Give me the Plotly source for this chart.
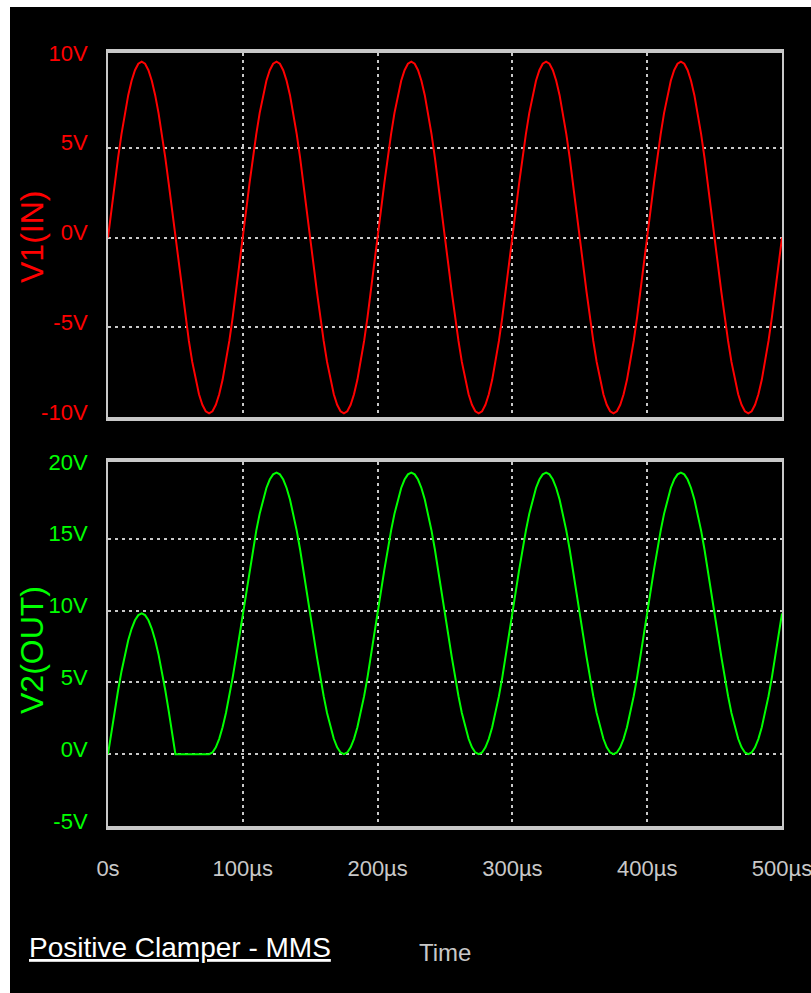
import plotly.graph_objects as go

# time step of the simulation samples (µs)
t_start = 0
t_step = 2.5

v1_in = [
    0, 1.53, 3.03, 4.45, 5.76, 6.93, 7.93, 8.73, 9.32, 9.68,
    9.8, 9.68, 9.32, 8.73, 7.93, 6.93, 5.76, 4.45, 3.03, 1.53,
    0, -1.53, -3.03, -4.45, -5.76, -6.93, -7.93, -8.73, -9.32, -9.68,
    -9.8, -9.68, -9.32, -8.73, -7.93, -6.93, -5.76, -4.45, -3.03, -1.53,
    0, 1.53, 3.03, 4.45, 5.76, 6.93, 7.93, 8.73, 9.32, 9.68,
    9.8, 9.68, 9.32, 8.73, 7.93, 6.93, 5.76, 4.45, 3.03, 1.53,
    0, -1.53, -3.03, -4.45, -5.76, -6.93, -7.93, -8.73, -9.32, -9.68,
    -9.8, -9.68, -9.32, -8.73, -7.93, -6.93, -5.76, -4.45, -3.03, -1.53,
    0, 1.53, 3.03, 4.45, 5.76, 6.93, 7.93, 8.73, 9.32, 9.68,
    9.8, 9.68, 9.32, 8.73, 7.93, 6.93, 5.76, 4.45, 3.03, 1.53,
    0, -1.53, -3.03, -4.45, -5.76, -6.93, -7.93, -8.73, -9.32, -9.68,
    -9.8, -9.68, -9.32, -8.73, -7.93, -6.93, -5.76, -4.45, -3.03, -1.53,
    0, 1.53, 3.03, 4.45, 5.76, 6.93, 7.93, 8.73, 9.32, 9.68,
    9.8, 9.68, 9.32, 8.73, 7.93, 6.93, 5.76, 4.45, 3.03, 1.53,
    0, -1.53, -3.03, -4.45, -5.76, -6.93, -7.93, -8.73, -9.32, -9.68,
    -9.8, -9.68, -9.32, -8.73, -7.93, -6.93, -5.76, -4.45, -3.03, -1.53,
    0, 1.53, 3.03, 4.45, 5.76, 6.93, 7.93, 8.73, 9.32, 9.68,
    9.8, 9.68, 9.32, 8.73, 7.93, 6.93, 5.76, 4.45, 3.03, 1.53,
    0, -1.53, -3.03, -4.45, -5.76, -6.93, -7.93, -8.73, -9.32, -9.68,
    -9.8, -9.68, -9.32, -8.73, -7.93, -6.93, -5.76, -4.45, -3.03, -1.53,
    0,
]

v2_out = [
    0, 1.53, 3.03, 4.45, 5.76, 6.93, 7.93, 8.73, 9.32, 9.68,
    9.8, 9.68, 9.32, 8.73, 7.93, 6.93, 5.76, 4.45, 3.03, 1.53,
    0, 0, 0, 0, 0, 0, 0, 0, 0, 0,
    0, 0.12, 0.48, 1.07, 1.87, 2.87, 4.04, 5.35, 6.77, 8.27,
    9.8, 11.33, 12.83, 14.25, 15.56, 16.73, 17.73, 18.53, 19.12, 19.48,
    19.6, 19.48, 19.12, 18.53, 17.73, 16.73, 15.56, 14.25, 12.83, 11.33,
    9.8, 8.27, 6.77, 5.35, 4.04, 2.87, 1.87, 1.07, 0.48, 0.12,
    0, 0.12, 0.48, 1.07, 1.87, 2.87, 4.04, 5.35, 6.77, 8.27,
    9.8, 11.33, 12.83, 14.25, 15.56, 16.73, 17.73, 18.53, 19.12, 19.48,
    19.6, 19.48, 19.12, 18.53, 17.73, 16.73, 15.56, 14.25, 12.83, 11.33,
    9.8, 8.27, 6.77, 5.35, 4.04, 2.87, 1.87, 1.07, 0.48, 0.12,
    0, 0.12, 0.48, 1.07, 1.87, 2.87, 4.04, 5.35, 6.77, 8.27,
    9.8, 11.33, 12.83, 14.25, 15.56, 16.73, 17.73, 18.53, 19.12, 19.48,
    19.6, 19.48, 19.12, 18.53, 17.73, 16.73, 15.56, 14.25, 12.83, 11.33,
    9.8, 8.27, 6.77, 5.35, 4.04, 2.87, 1.87, 1.07, 0.48, 0.12,
    0, 0.12, 0.48, 1.07, 1.87, 2.87, 4.04, 5.35, 6.77, 8.27,
    9.8, 11.33, 12.83, 14.25, 15.56, 16.73, 17.73, 18.53, 19.12, 19.48,
    19.6, 19.48, 19.12, 18.53, 17.73, 16.73, 15.56, 14.25, 12.83, 11.33,
    9.8, 8.27, 6.77, 5.35, 4.04, 2.87, 1.87, 1.07, 0.48, 0.12,
    0, 0.12, 0.48, 1.07, 1.87, 2.87, 4.04, 5.35, 6.77, 8.27,
    9.8,
]

x_tickvals = [0, 100, 200, 300, 400, 500]
x_ticktext = ["0s", "100µs", "200µs", "300µs", "400µs", "500µs"]
x_gridvals = [100, 200, 300, 400]

y1_tickvals = [10, 5, 0, -5, -10]
y1_ticktext = ["10V", "5V", "0V", "-5V", "-10V"]
y1_gridvals = [5, 0, -5]

y2_tickvals = [20, 15, 10, 5, 0, -5]
y2_ticktext = ["20V", "15V", "10V", "5V", "0V", "-5V"]
y2_gridvals = [15, 10, 5, 0]

RED = "#ff0000"
GREEN = "#00ff00"
GRAY = "#c8c8c8"
FONT = "Liberation Sans, Arial, sans-serif"

fig = go.Figure()
fig.add_trace(go.Scatter(x0=t_start, dx=t_step, y=v1_in, mode="lines",
                         line=dict(color=RED, width=2), xaxis="x", yaxis="y",
                         showlegend=False))
fig.add_trace(go.Scatter(x0=t_start, dx=t_step, y=v2_out, mode="lines",
                         line=dict(color=GREEN, width=2), xaxis="x2", yaxis="y2",
                         showlegend=False))

grid_common = dict(showgrid=True, gridcolor=GRAY, gridwidth=2, griddash="3px,4px")

xcommon = dict(range=[0, 500], showline=True, linecolor=GRAY, linewidth=4, mirror=True,
               showgrid=False, zeroline=False, ticks="", automargin=False,
               minor=dict(tickvals=x_gridvals, ticks="", **grid_common))

fig.update_layout(
    width=811, height=993,
    margin=dict(l=108, r=29, t=53, b=167),
    paper_bgcolor="black", plot_bgcolor="black",
    xaxis=dict(anchor="y", showticklabels=False, tickvals=x_tickvals, **xcommon),
    xaxis2=dict(anchor="y2", tickvals=x_tickvals, ticktext=x_ticktext,
                tickfont=dict(family=FONT, size=22, color=GRAY),
                ticklabelstandoff=20, ticklabeloverflow="allow", **xcommon),
    yaxis=dict(domain=[0.5291, 1], range=[-10, 10.28], anchor="x",
               tickvals=y1_tickvals, ticktext=y1_ticktext,
               tickfont=dict(family=FONT, size=22, color=RED),
               ticklabelstandoff=14, ticklabelshift=-5, automargin=False,
               showline=True, linecolor=GRAY, linewidth=2, mirror=True,
               showgrid=False, zeroline=False, ticks="",
               minor=dict(tickvals=y1_gridvals, ticks="", **grid_common)),
    yaxis2=dict(domain=[0, 0.4709], range=[-5, 20.34], anchor="x2",
                tickvals=y2_tickvals, ticktext=y2_ticktext,
                tickfont=dict(family=FONT, size=22, color=GREEN),
                ticklabelstandoff=14, ticklabelshift=-5, automargin=False,
                showline=True, linecolor=GRAY, linewidth=2, mirror=True,
                showgrid=False, zeroline=False, ticks="",
                minor=dict(tickvals=y2_gridvals, ticks="", **grid_common)),
    shapes=[
        dict(type="rect", xref="paper", yref="paper", x0=-0.2, x1=(10 - 108) / 674,
             y0=-0.3, y1=1.2, fillcolor="white", line=dict(width=0), layer="above"),
        dict(type="rect", xref="paper", yref="paper", x0=-0.2, x1=1.2,
             y0=(826 - 7) / 773, y1=1.2, fillcolor="white", line=dict(width=0), layer="above"),
    ],
    annotations=[
        dict(text="V1(IN)", xref="paper", yref="paper", x=(32 - 108) / 674, y=(826 - 237) / 773,
             textangle=-90, showarrow=False, font=dict(family=FONT, size=32, color=RED),
             xanchor="center", yanchor="middle"),
        dict(text="V2(OUT)", xref="paper", yref="paper", x=(32 - 108) / 674, y=(826 - 650) / 773,
             textangle=-90, showarrow=False, font=dict(family=FONT, size=32, color=GREEN),
             xanchor="center", yanchor="middle"),
        dict(text="Time", xref="paper", yref="paper", x=(445 - 108) / 674, y=(826 - 952) / 773,
             showarrow=False, font=dict(family=FONT, size=24, color=GRAY),
             xanchor="center", yanchor="middle"),
        dict(text="<u>Positive Clamper - MMS</u>", xref="paper", yref="paper",
             x=(27 - 108) / 674, y=(826 - 948) / 773,
             showarrow=False, font=dict(family=FONT, size=28, color="white"),
             xanchor="left", yanchor="middle"),
    ],
)

fig.write_html("out.html", config={"displayModeBar": False},
               post_script="document.body.style.margin='0';document.body.style.overflow='hidden';")
